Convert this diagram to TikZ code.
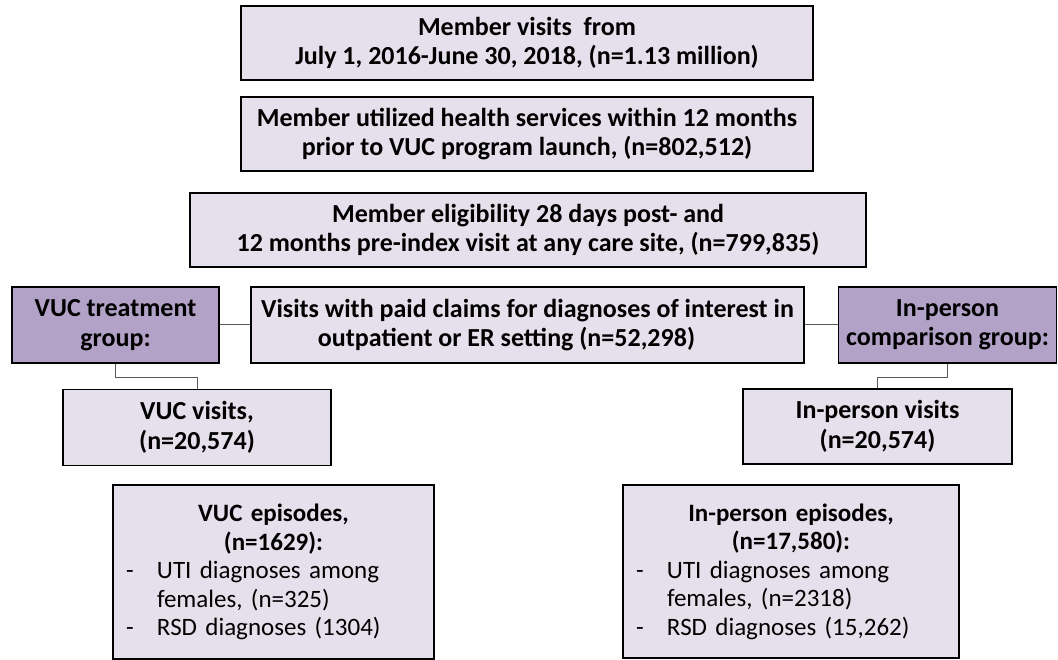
\documentclass[tikz,border=0pt]{standalone}
\usepackage{fontspec}
\setmainfont{Carlito}
\definecolor{boxfill}{HTML}{E6E0EC}
\definecolor{grpfill}{HTML}{B3A2C7}
\definecolor{linkgray}{HTML}{595959}

\begin{document}
\begin{tikzpicture}[x=1pt, y=1pt,
    box/.style={draw, line width=1.5pt, fill=boxfill, align=center, inner sep=0pt,
        font=\fontsize{26}{29.5}\selectfont\bfseries},
    grp/.style={box, fill=grpfill},
    epi/.style={draw, line width=1.5pt, fill=boxfill, align=left, inner xsep=13pt, inner ysep=0pt,
        font=\fontsize{25}{28.5}\selectfont},
    link/.style={draw=linkgray, line width=1pt}]
    \useasboundingbox (0,0) rectangle (1058,-660);
    \node[box, minimum width=572, minimum height=74] (all) at (527,-43) {Member visits~ from\\July 1, 2016-June 30, 2018, (n=1.13 million)};
    \node[box, minimum width=572, minimum height=74] (util) at (527,-134) {Member utilized health services within 12 months\\prior to VUC program launch, (n=802,512)};
    \node[box, minimum width=676, minimum height=74] (elig) at (528,-230) {Member eligibility 28 days post- and\\12 months pre-index visit at any care site, (n=799,835)};
    \node[box, minimum width=553, minimum height=76] (claims) at (527.5,-325) {Visits with paid claims for diagnoses of interest in\\outpatient or ER setting (n=52,298)\hspace*{42pt}};
    \node[grp, minimum width=207, minimum height=76] (vucgrp) at (115.5,-325) {VUC treatment\\group:};
    \node[grp, minimum width=218, minimum height=76] (ipgrp) at (947.5,-325) {In-person\\comparison group:};
    \node[box, minimum width=268, minimum height=76] (vucvis) at (197,-427.5) {VUC visits,\\(n=20,574)};
    \node[box, minimum width=269, minimum height=75] (ipvis) at (877.5,-426.5) {In-person visits\\(n=20,574)};
    \node[epi, minimum width=321, minimum height=174, text width=295] (vucepi) at (273.5,-572)
        {{\centering\bfseries VUC episodes,\\(n=1629):\par}
        \makebox[31pt][l]{-}UTI diagnoses among\\
        \hspace*{31pt}females, (n=325)\\
        \makebox[31pt][l]{-}RSD diagnoses (1304)};
    \node[epi, minimum width=336, minimum height=173, text width=310] (ipepi) at (791,-571.5)
        {{\centering\bfseries In-person episodes,\\(n=17,580):\par}
        \makebox[31pt][l]{-}UTI diagnoses among\\
        \hspace*{31pt}females, (n=2318)\\
        \makebox[31pt][l]{-}RSD diagnoses (15,262)};
    \draw[link] (vucgrp.east) -- (claims.west);
    \draw[link] (claims.east) -- (ipgrp.west);
    \draw[link] (vucgrp.south) -- ++(0,-14) -| (vucvis.north);
    \draw[link] (ipgrp.south) -- ++(0,-14) -| (ipvis.north);
\end{tikzpicture}
\end{document}
